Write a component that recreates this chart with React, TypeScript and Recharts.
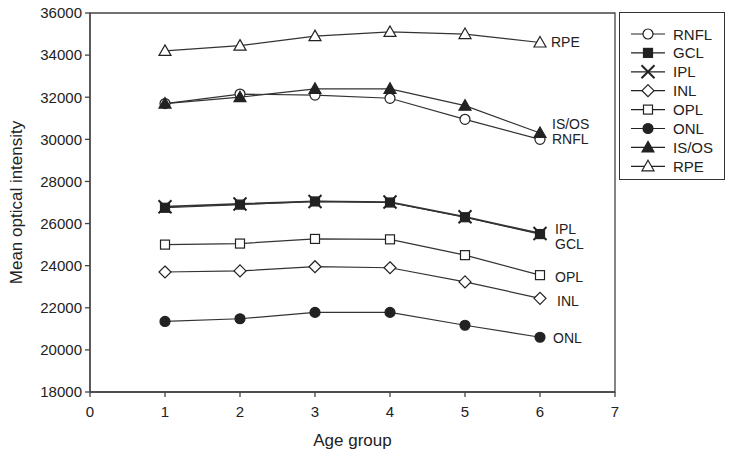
import React from 'react';
import { LineChart, Line, XAxis, YAxis, Legend, LabelList, ReferenceArea } from 'recharts';

const ages = [1, 2, 3, 4, 5, 6];
const rnfl = [31700, 32150, 32100, 31950, 30950, 30000];
const gcl = [26750, 26900, 27050, 27000, 26300, 25500];
const ipl = [26800, 26930, 27050, 27020, 26320, 25530];
const inl = [23700, 23750, 23950, 23900, 23230, 22450];
const opl = [25000, 25050, 25270, 25250, 24500, 23550];
const onl = [21350, 21480, 21780, 21780, 21170, 20600];
const isos = [31700, 32000, 32400, 32400, 31600, 30300];
const rpe = [34200, 34450, 34900, 35100, 35000, 34600];
const xTicks = [0, 1, 2, 3, 4, 5, 6, 7];
const yTicks = [18000, 20000, 22000, 24000, 26000, 28000, 30000, 32000, 34000, 36000];

const data = ages.map((a, i) => ({
  age: a,
  RNFL: rnfl[i],
  GCL: gcl[i],
  IPL: ipl[i],
  INL: inl[i],
  OPL: opl[i],
  ONL: onl[i],
  'IS/OS': isos[i],
  RPE: rpe[i],
}));

const INK = '#222';
const FONT = '"Liberation Sans", Arial, sans-serif';

type MType = 'circleOpen' | 'squareFilled' | 'x' | 'diamondOpen' | 'squareOpen' | 'circleFilled' | 'triFilled' | 'triOpen';

function Mark({ type, cx, cy }: { type: MType; cx: number; cy: number }) {
  const sw = 1.2;
  switch (type) {
    case 'circleOpen':
      return <circle cx={cx} cy={cy} r={5} fill="#fff" stroke={INK} strokeWidth={sw} />;
    case 'circleFilled':
      return <circle cx={cx} cy={cy} r={5} fill={INK} stroke={INK} strokeWidth={sw} />;
    case 'squareFilled':
      return <rect x={cx - 4.5} y={cy - 4.5} width={9} height={9} fill={INK} stroke={INK} strokeWidth={sw} />;
    case 'squareOpen':
      return <rect x={cx - 4.5} y={cy - 4.5} width={9} height={9} fill="#fff" stroke={INK} strokeWidth={sw} />;
    case 'diamondOpen':
      return <path d={`M${cx},${cy - 6}L${cx + 6},${cy}L${cx},${cy + 6}L${cx - 6},${cy}Z`} fill="#fff" stroke={INK} strokeWidth={sw} />;
    case 'triFilled':
      return <path d={`M${cx},${cy - 6}L${cx + 6},${cy + 4.5}L${cx - 6},${cy + 4.5}Z`} fill={INK} stroke={INK} strokeWidth={sw} />;
    case 'triOpen':
      return <path d={`M${cx},${cy - 6}L${cx + 6},${cy + 4.5}L${cx - 6},${cy + 4.5}Z`} fill="#fff" stroke={INK} strokeWidth={sw} />;
    case 'x':
      return (
        <g>
          <line x1={cx - 6.5} y1={cy - 6.5} x2={cx + 6.5} y2={cy + 6.5} stroke={INK} strokeWidth={2} />
          <line x1={cx - 6.5} y1={cy + 6.5} x2={cx + 6.5} y2={cy - 6.5} stroke={INK} strokeWidth={2} />
        </g>
      );
  }
  return null;
}

const series: { key: string; mark: MType; width: number; dx: number; dy: number }[] = [
  { key: 'RNFL', mark: 'circleOpen', width: 1.2, dx: 12, dy: 0 },
  { key: 'GCL', mark: 'squareFilled', width: 1.2, dx: 15, dy: 10 },
  { key: 'IPL', mark: 'x', width: 1.8, dx: 15, dy: -4 },
  { key: 'INL', mark: 'diamondOpen', width: 1.2, dx: 17, dy: 3 },
  { key: 'OPL', mark: 'squareOpen', width: 1.2, dx: 15, dy: 2 },
  { key: 'ONL', mark: 'circleFilled', width: 1.2, dx: 13, dy: 1 },
  { key: 'IS/OS', mark: 'triFilled', width: 1.2, dx: 12, dy: -9 },
  { key: 'RPE', mark: 'triOpen', width: 1.2, dx: 11, dy: 0 },
];

const drawOrder = ['RPE', 'RNFL', 'IS/OS', 'GCL', 'IPL', 'OPL', 'INL', 'ONL'];

function LegendBox() {
  return (
    <div style={{ width: 106, height: 168, border: '1.3px solid #333', background: '#fff', boxSizing: 'border-box' }}>
      <svg width={106} height={168}>
        {series.map((s, i) => {
          const y = 21 + i * 18.9;
          return (
            <g key={s.key}>
              <line x1={11} x2={45} y1={y} y2={y} stroke={INK} strokeWidth={1.2} />
              <Mark type={s.mark} cx={28} cy={y} />
              <text x={53} y={y} dominantBaseline="central" fontSize={15} fontFamily={FONT} fill={INK}>
                {s.key}
              </text>
            </g>
          );
        })}
      </svg>
    </div>
  );
}

export default function App() {
  const ordered = drawOrder.map((k) => series.find((s) => s.key === k)!);
  return (
    <div style={{ position: 'absolute', left: 0, top: 0, background: '#fff' }}>
      <LineChart width={733} height={461} data={data} margin={{ top: 13, right: 118, bottom: 29, left: 0 }}>
        <ReferenceArea x1={0} x2={7} y1={18000} y2={36000} fill="none" stroke="#444" strokeWidth={1.3} ifOverflow="visible" />
        <XAxis
          dataKey="age"
          type="number"
          domain={[0, 7]}
          ticks={xTicks}
          tickSize={5}
          tickMargin={9}
          height={40}
          stroke="#444"
          strokeWidth={1.3}
          tick={{ fill: INK, fontSize: 15, fontFamily: FONT }}
          label={(p: any) => {
            const vb = p.viewBox;
            return (
              <text x={vb.x + vb.width / 2} y={440} textAnchor="middle" dominantBaseline="central" fontSize={17} fontFamily={FONT} fill={INK}>
                Age group
              </text>
            );
          }}
        />
        <YAxis
          domain={[18000, 36000]}
          ticks={yTicks}
          width={90}
          tickSize={5}
          tickMargin={3}
          stroke="#444"
          strokeWidth={1.3}
          tick={{ fill: INK, fontSize: 15, fontFamily: FONT }}
          label={(p: any) => {
            const vb = p.viewBox;
            const cy = vb.y + vb.height / 2;
            return (
              <text x={16} y={cy} transform={`rotate(-90 16 ${cy})`} textAnchor="middle" dominantBaseline="central" fontSize={17} fontFamily={FONT} fill={INK}>
                Mean optical intensity
              </text>
            );
          }}
        />
        {ordered.map((s) => (
          <Line
            key={s.key}
            dataKey={s.key}
            stroke="#333"
            strokeWidth={s.width}
            isAnimationActive={false}
            dot={(p: any) => <Mark key={`${s.key}-${p.index}`} type={s.mark} cx={p.cx} cy={p.cy} />}
            activeDot={false}
          >
            <LabelList
              dataKey={s.key}
              content={(p: any) =>
                p.index === ages.length - 1 ? (
                  <text x={p.x + s.dx} y={p.y + s.dy} dominantBaseline="central" fontSize={14} fontFamily={FONT} fill={INK}>
                    {s.key}
                  </text>
                ) : null
              }
            />
          </Line>
        ))}
        <Legend
          layout="vertical"
          align="center"
          verticalAlign="middle"
          content={() => <LegendBox />}
          wrapperStyle={{ position: 'absolute', left: 619, top: 12, width: 106, height: 168 }}
        />
      </LineChart>
    </div>
  );
}
